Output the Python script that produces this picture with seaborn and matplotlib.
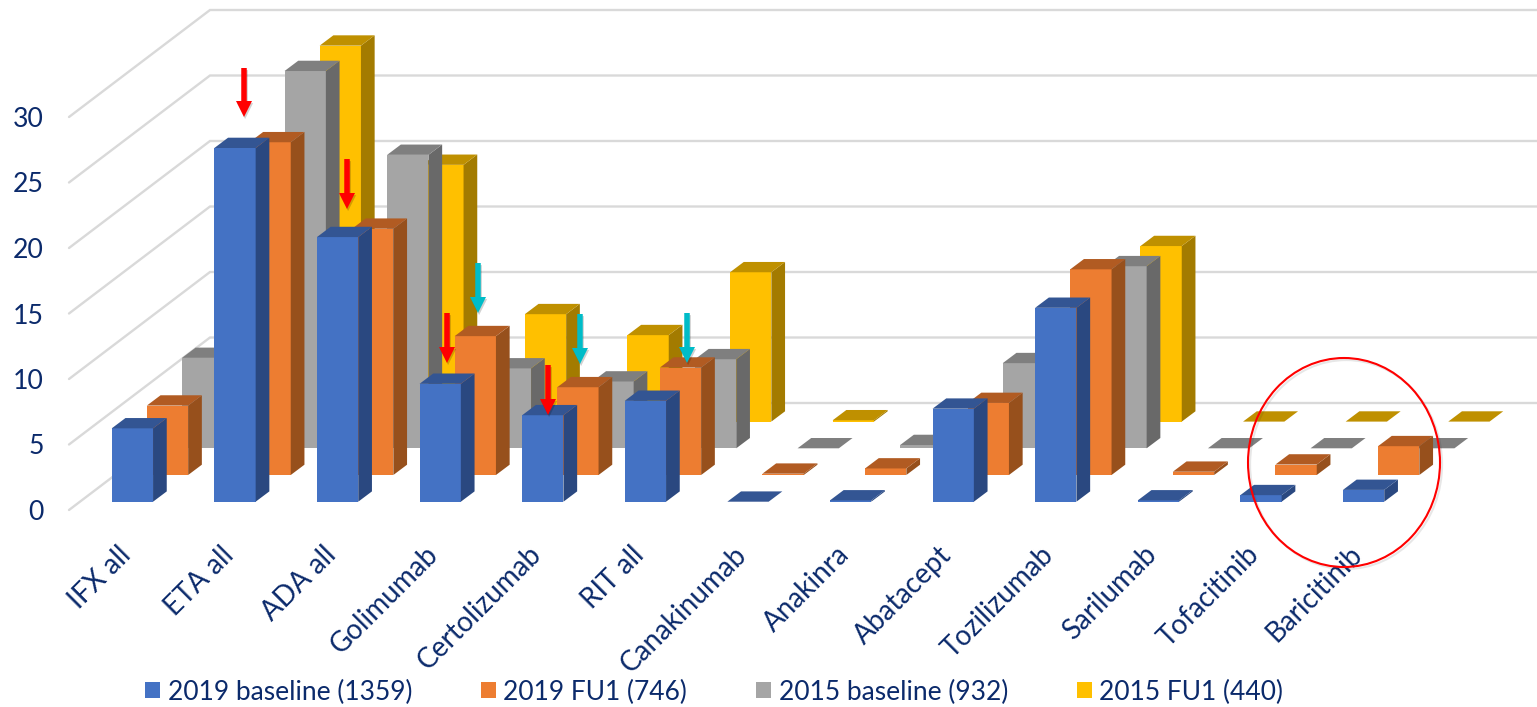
import matplotlib
matplotlib.use("Agg")
import matplotlib.pyplot as plt
import matplotlib.patheffects as pe
from matplotlib.patches import Ellipse, FancyArrow, Patch, Polygon
from matplotlib.transforms import Affine2D
import seaborn as sns

# Percentage of patients on each drug, per survey wave
drugs = ["IFX all", "ETA all", "ADA all", "Golimumab", "Certolizumab", "RIT all",
         "Canakinumab", "Anakinra", "Abatacept", "Tozilizumab", "Sarilumab",
         "Tofacitinib", "Baricitinib"]
baseline_2019 = [5.6, 27.0, 20.2, 9.0, 6.6, 7.7, 0.0, 0.1, 7.1, 14.8, 0.1, 0.5, 0.9]
fu1_2019 = [5.3, 25.4, 18.8, 10.6, 6.7, 8.2, 0.1, 0.5, 5.5, 15.7, 0.25, 0.8, 2.2]
baseline_2015 = [6.9, 28.8, 22.4, 6.1, 5.1, 6.8, 0.0, 0.25, 6.5, 13.9, 0.0, 0.0, 0.0]
fu1_2015 = [8.0, 28.7, 19.6, 8.2, 6.6, 11.4, 0.1, 0.0, 0.0, 13.4, 0.0, 0.0, 0.0]
series_names = ["2019 baseline (1359)", "2019 FU1 (746)", "2015 baseline (932)", "2015 FU1 (440)"]
y_ticks = [0, 5, 10, 15, 20, 25, 30]

# Oblique projection, in pixels of the 1537x707 canvas
W, H = 1537, 707
PX_PER_CAT = 102.6
PX_PER_UNIT = 13.1
FLOOR_Y = 510
AXES_BOTTOM = 515
WALL_X = 69
FIRST_CENTER = 132.4
BAR_W = 41.3
STEP_DX, STEP_DY = 35.1, 26.7       # shift between consecutive series
DEPTH_DX, DEPTH_DY = 13.7, 10.3     # depth of one bar
FRONT_LIFT = 8.3                    # front row sits above the wall's front edge
WALL_DX, WALL_DY = 141, 107
LABEL_SHIFT = 15                    # rotated labels end a little left of their bar

FACES = [("#4472C4", "#2A4880", "#335593"),
         ("#ED7D31", "#97501C", "#B15B22"),
         ("#A5A5A5", "#696969", "#7F7F7F"),
         ("#FFC000", "#A37B00", "#BF9000")]
GRID = "#D9D9D9"
INK = "#0B2A6B"

sns.set_theme(style="white")
plt.rcParams["font.family"] = ["Lato", "DejaVu Sans"]

fig = plt.figure(figsize=(W / 100, H / 100), dpi=100)
ax = fig.add_axes([WALL_X / W, 1 - AXES_BOTTOM / H, 1 - WALL_X / W, AXES_BOTTOM / H])
pixels = Affine2D().scale(1 / W, -1 / H).translate(0, 1) + fig.transFigure


def to_x(px):
    return px / PX_PER_CAT


def to_y(px):
    return px / PX_PER_UNIT


x_min = to_x(WALL_X - FIRST_CENTER)
x_max = to_x(W - FIRST_CENTER)
y_min = to_y(FLOOR_Y - AXES_BOTTOM)
y_max = to_y(FLOOR_Y)

# Side wall and back wall gridlines
for v in y_ticks:
    back_x = x_min + to_x(WALL_DX)
    back_y = v + to_y(WALL_DY)
    ax.plot([x_min, back_x, x_max], [v, back_y, back_y], color=GRID, lw=1.7,
            zorder=0, solid_joinstyle="miter", clip_on=False)

# Back series first, so that the nearer rows cover them
all_series = [baseline_2019, fu1_2019, baseline_2015, fu1_2015]
for k in range(3, -1, -1):
    front, side, top = FACES[k]
    sns.barplot(x=drugs, y=all_series[k], order=drugs, color=front, saturation=1,
                width=BAR_W / PX_PER_CAT, linewidth=0, errorbar=None, ax=ax, zorder=5 - k)
    shift_x, shift_y = to_x(k * STEP_DX), to_y(k * STEP_DY + FRONT_LIFT)
    ddx, ddy = to_x(DEPTH_DX), to_y(DEPTH_DY)
    for bar in ax.containers[-1]:
        bar.set_x(bar.get_x() + shift_x)
        bar.set_y(bar.get_y() + shift_y)
        x0, y0, w, h = bar.get_x(), bar.get_y(), bar.get_width(), bar.get_height()
        ax.add_patch(Polygon([(x0 + w, y0), (x0 + w + ddx, y0 + ddy),
                              (x0 + w + ddx, y0 + h + ddy), (x0 + w, y0 + h)],
                             closed=True, fc=side, ec="none", zorder=5 - k))
        ax.add_patch(Polygon([(x0, y0 + h), (x0 + w, y0 + h),
                              (x0 + w + ddx, y0 + h + ddy), (x0 + ddx, y0 + h + ddy)],
                             closed=True, fc=top, ec="none", zorder=5 - k))

ax.set_xlim(x_min, x_max)
ax.set_ylim(y_min, y_max)
ax.set_yticks(y_ticks)
ax.set_yticklabels([str(v) for v in y_ticks], fontsize=19.2, color=INK)
ax.set_xticks([i - to_x(LABEL_SHIFT) for i in range(len(drugs))])
ax.set_xticklabels(drugs, rotation=45, ha="right", va="top", rotation_mode="anchor",
                   fontsize=20, color=INK)
ax.tick_params(axis="y", length=0, pad=18)
ax.tick_params(axis="x", length=0, pad=19)
ax.set_xlabel("")
ax.set_ylabel("")
sns.despine(ax=ax, left=True, bottom=True)
ax.grid(False)
ax.patch.set_alpha(0)

# Callout arrows and the ring around the newest drugs
RED, TEAL = "#FF0000", "#00BCC8"
arrows = [(244, 68, 117, RED), (347, 159, 209, RED), (447, 313, 363, RED), (548, 365, 415, RED),
          (478, 263, 313, TEAL), (580, 314, 364, TEAL), (687, 313, 363, TEAL)]
shadow = [pe.SimplePatchShadow(offset=(0.8, -1.5), alpha=0.18, shadow_rgbFace="#000000"), pe.Normal()]
for ax_x, tail, tip, colour in arrows:
    ax.add_patch(FancyArrow(ax_x, tail, 0, tip - tail, width=5.5, head_width=16, head_length=16,
                            length_includes_head=True, fc=colour, ec="none", transform=pixels,
                            zorder=10, clip_on=False, path_effects=shadow))
ax.add_patch(Ellipse((1344, 462.5), 192, 209, fill=False, ec=RED, lw=1.5, transform=pixels,
                     zorder=10, clip_on=False,
                     path_effects=[pe.SimpleLineShadow(offset=(1.5, -1.5), alpha=0.1), pe.Normal()]))

handles = [Patch(fc=FACES[k][0], ec="none", label=series_names[k]) for k in range(4)]
fig.legend(handles=handles, ncol=4, frameon=False, loc="center left",
           bbox_to_anchor=(145 / W, 1 - 692 / H), fontsize=19, labelcolor=INK,
           handlelength=0.58, handleheight=0.58, handletextpad=0.28, columnspacing=2.6,
           borderpad=0, borderaxespad=0)

fig.savefig("out.png", dpi=100, facecolor="white")
